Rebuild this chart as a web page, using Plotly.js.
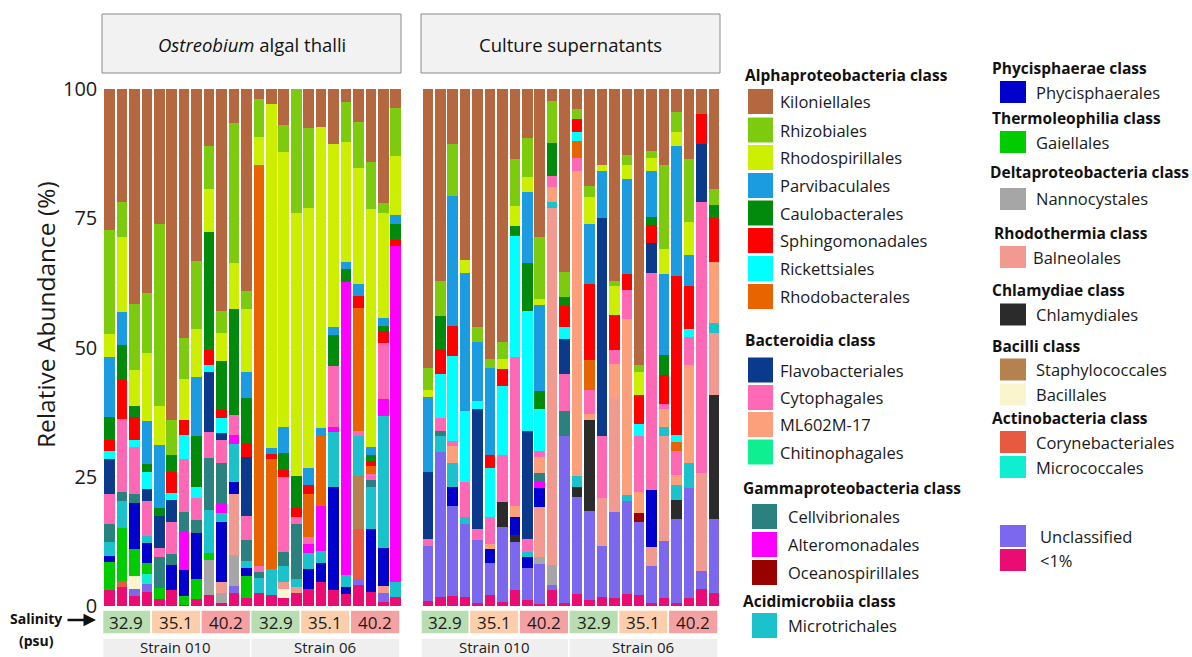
<!DOCTYPE html>
<html>
<head>
<meta charset="utf-8">
<script src="https://cdn.plot.ly/plotly-3.0.1.min.js"></script>
<style>html,body{margin:0;padding:0;background:#fff}#chart{width:1192px;height:657px}</style>
</head>
<body>
<div id="chart"></div>
<script>
// ---------------- DATA ----------------
// Each order: [algal thalli (24 bars), culture supernatants (24 bars)]
// bar order inside a panel: Strain 010 (32.9 x4, 35.1 x4, 40.2 x4), Strain 06 (32.9 x4, 35.1 x4, 40.2 x4)
const panels = ['<i>Ostreobium</i> algal thalli', 'Culture supernatants'];
const strains = ['Strain 010', 'Strain 06'];
const salinities = ['32.9', '35.1', '40.2'];
const replicates = ['1', '2', '3', '4'];

const Kiloniellales = [
  [27.3,21.8,41.5,39.4,26.1,64.0,48.2,33.2,11.0,42.9,6.6,39.0, 1.9,2.9,7.0,0,7.6,7.4,10.6,2.5,6.3,14.1,22.1,3.7],
  [54.0,37.1,10.6,33.1,46.1,52.3,48.9,13.5,9.5,28.6,2.3,35.3, 3.9,18.8,14.7,37.1,12.8,53.4,11.9,14.7,4.4,13.5,4.8,19.4]];
const Rhizobiales = [
  [20.0,6.8,12.9,11.7,35.2,6.8,7.8,13.3,8.4,4.2,27.0,3.6, 7.3,0,5.1,24.0,15.4,0,0,7.8,8.9,9.2,1.9,9.3],
  [4.2,6.8,10.1,0,2.8,1.7,3.4,9.1,7.6,12.1,8.2,5.0, 1.9,2.0,0,1.1,1.9,1.3,1.5,16.3,4.0,12.2,0,3.0]];
const Rhodospirillales = [
  [4.6,14.5,7.0,13.2,7.6,0,8.0,9.3,8.2,5.6,9.0,12.2, 5.5,66.5,53.3,50.9,50.4,58.2,35.4,23.1,22.6,45.9,20.2,11.4],
  [1.4,0,0,2.4,0,0,1.9,3.9,2.9,1.0,0,0, 0,5.3,1.2,5.5,2.7,4.5,2.4,4.7,2.6,6.4,0,0]];
const Parvibaculales = [
  [11.5,6.4,0,8.3,12.1,0,0,11.4,0,0,0,5.0, 0,1.2,5.1,0,3.2,1.5,1.6,1.5,2.3,1.6,1.6,1.7],
  [14.5,0,25.1,26.7,11.4,16.8,0,0,13.7,16.8,0,0, 0,11.6,9.1,0,18.3,0,9.0,15.8,25.1,6.1,0,0]];
const Caulobacterales = [
  [4.4,6.7,2.1,1.5,1.5,3.2,0,9.7,22.8,9.1,20.5,8.6, 0,0,3.1,6.1,0,0,6.0,2.4,0,1.1,1.1,3.1],
  [0,6.3,0,0,0,0,0,1.9,9.2,3.3,6.3,1.6, 0,0,0,0,0,0,1.5,3.8,0,0,0,2.6]];
const Sphingomonadales = [
  [2.3,7.6,4.3,0,0,4.2,3.0,0,3.0,1.9,0,2.7, 0,1.0,1.4,1.7,1.7,0,0,0,2.2,1.0,2.2,1.1],
  [0,4.9,5.8,0,0,2.6,3.2,0,0,0,0,4.1, 2.6,14.8,0,6.8,3.1,5.5,3.4,5.6,30.8,8.2,5.8,8.4]];
const Rickettsiales = [
  [1.5,0,1.5,3.3,0,1.2,4.6,2.3,1.3,2.9,0,0, 0,0,0,0,0,0,0,0,0,0,0,0],
  [0,8.6,16.4,13.8,1.5,9.3,13.4,23.5,23.2,8.3,0,2.4, 1.6,0,0,0,0,2.4,0,0,1.3,1.6,0,0]];
const Rhodobacterales = [
  [0,0,0,0,0,0,0,0,0,0,0,0, 77.6,21.3,0,0,8.4,13.6,0,0,23.8,1.6,0,0],
  [0,0,0,0,0,0,0,0,0,0,0,0, 3.4,5.8,0,0,0,0,0,0,1.9,0,0,0]];
const Flavobacteriales = [
  [6.7,0,0,2.2,6.2,4.3,0,0,11.6,1.2,0,11.5, 0,0,0,0,0,0,0,0,0,0,0,0],
  [13.0,0,0,0,23.4,0,0,0,21.0,0,0,6.7, 0,0,42.1,0,0,0,5.8,0,0,0,11.3,0]];
const Cytophagales = [
  [5.9,14.1,9.0,6.9,1.8,6.2,10.3,4.2,5.1,4.6,3.8,4.6, 1.1,0,14.6,1.5,1.3,0,11.8,0,1.0,1.1,10.9,0],
  [1.2,2.4,1.1,6.8,2.0,5.3,9.0,28.7,2.4,1.1,2.2,7.1, 2.4,4.6,12.1,2.7,5.7,10.8,42.1,0.9,4.6,5.4,52.3,0]];
const ML602M17 = [
  [0,0,0,0,0,0,0,0,0,0,0,0, 0,0,0,0,0,0,0,0,0,0,0,0],
  [0,0,3.3,0,0,1.0,0,2.1,0,3.0,2.8,0, 59.1,1.1,0,6.4,34.0,4.2,0,3.6,1.9,19.0,0,11.9]];
const Chitinophagales = [
  [0,0,0,0,0,0,0,0,0,0,0,0, 0,0,0,0,0,0,0,0,0,0,0,0],
  [0,0,0,0,0,0,0,0,0,0,0,0, 0,0,0,0,0,0,0,0,0,0,0,0]];
const Cellvibrionales = [
  [3.4,1.8,1.7,0,6.1,2.2,3.7,2.5,10.0,7.7,0,4.1, 1.2,0,2.6,10.6,0,0,0,0,0,1.3,0,0],
  [0,1.1,0,0,0,0,0,0,0,1.6,0,5.0, 0,0,0,0,0,0,0,0,0,0,0,0]];
const Alteromonadales = [
  [0,0,0,0,0,0,7.4,0,0,2.0,1.8,0, 0,0,0,0,1.8,8.6,0.9,56.7,0,0,3.3,65.0],
  [0,0,0,0,0,0,0,0,0,1.3,0,0, 0,0,0,0,0,0,0,0,0,0,0,0]];
const Oceanospirillales = [
  [0,0,0,0,0,0,0,0,0,0,0,0, 0,0,0,0,0,0,0,0,0,0,0,0],
  [0,0,0,0,0,0,0,0,0,0,0,0, 0,0,0,0,0,1.6,0,0,0,0,0,0]];
const Microtrichales = [
  [2.7,5.3,0,1.4,0,0,0,0,8.4,1.6,7.4,1.4, 2.8,5.0,3.2,1.6,3.1,2.3,10.7,2.4,7.8,8.3,25.5,3.0],
  [0,3.1,4.5,1.3,0,0,0,0,1.1,0,1.3,0, 2.0,0,0,0,1.2,0,0,1.7,2.9,4.8,0,1.9]];
const Phycisphaerales = [
  [1.1,0,9.0,3.7,0,4.9,5.0,8.9,0,11.6,2.2,1.5, 0,0,0,0,3.9,3.8,20.0,1.3,0,12.0,7.3,0],
  [0,0,3.8,0,0,2.6,0,3.6,2.1,3.7,0,0, 0,0,0,0,0,0,10.9,0,0,0,0,0]];
const Gaiellales = [
  [5.5,10.1,5.2,2.3,2.1,0,1.8,3.9,1.3,0,0,4.3, 0,0,0,0,0,0,0,0,0,0,0,0],
  [0,0,0,0,0,0,0,0,0,0,0,0, 0,0,0,0,0,0,0,0,0,0,0,0]];
const Nannocystales = [
  [0,0,0,0,0,0,0,0,6.8,2.1,6.0,0, 0,0,0,0,0,0,0,0,0,0,0,0],
  [0,0,0,0,0,0,0,0,0,1.4,3.8,0, 0,0,0,0,0,0,0,0,0,0,0,0]];
const Balneolales = [
  [0,0,0,0,0,0,0,0,0,2.1,11.8,0, 0,0,1.4,1.0,0,0,0,0,0,0,1.4,0],
  [0,0,0,0,0,0,0,0,0,9.7,69.0,0, 0,0,9.2,22.2,0,0,3.7,20.3,0,0,19.0,12.0]];
const Chlamydiales = [
  [0,0,0,0,0,0,0,0,0,0,0,0, 0,0,0,0,0,0,0,0,0,0,0,0],
  [0,0,0,0,0,0,5.0,1.4,0,0,0,0, 2.1,17.6,0,0,0,0,0,0,3.7,0,0,24.0]];
const Staphylococcales = [
  [0,0,0,0,0,0,0,0,0,0,0,0, 0,0,0,0,0,0,0,0,10.3,0,0,0],
  [0,0,0,0,0,0,0,0,0,0,0,0, 0,0,0,0,0,0,0,0,0,0,0,0]];
const Bacillales = [
  [0,0,2.6,0,0,0,0,0,0,0,0,0, 0,0,1.7,0,0,0,0,0,0,0,0,0],
  [0,0,0,0,0,0,0,0,0,0,0,0, 0,0,0,0,0,0,0,0,0,0,0,0]];
const Corynebacteriales = [
  [0,1.2,0,0,0,0,0,0,0,0,0,0, 0,0,0,0,0,0,0,0,9.6,0,0,0],
  [0,0,0,0,0,0,0,0,0,0,0,0, 0,0,0,0,0,0,0,0,0,0,0,0]];
const Micrococcales = [
  [0,0,0,1.9,0,0,0,0,0,0,0,0, 0,0,0,0,0,0,0,0,0,0,0,0],
  [0,0,0,0,0,0,0,0,0,0,0,0, 0,0,0,0,0,0,0,0,0,0,0,0]];
const Unclassified = [
  [0,0,1.3,1.4,0,0,0,0,0,0,1.3,0, 0,0,0,0,0,0,0,0,1.1,0,1.7,0],
  [10.7,27.9,17.4,14.1,12.3,6.3,14.4,9.2,6.1,7.8,1.0,32.3, 18.7,17.2,9.9,16.7,18.0,14.2,7.3,11.1,16.2,21.3,3.6,14.3]];
const LessThan1 = [
  [3.1,3.7,1.9,2.8,1.3,3.0,0.2,1.3,2.1,0.5,2.6,1.5, 2.6,2.1,1.5,2.6,3.2,4.6,3.0,2.3,4.1,2.8,0.8,1.7],
  [1.0,1.8,1.9,1.8,0.5,2.1,0.8,3.1,1.2,0.3,3.1,0.5, 2.3,1.2,1.7,1.5,2.3,2.1,0.5,1.5,0.6,1.5,3.2,2.5]];

// name -> values
const seriesData = {
  'Kiloniellales': Kiloniellales, 'Rhizobiales': Rhizobiales, 'Rhodospirillales': Rhodospirillales,
  'Parvibaculales': Parvibaculales, 'Caulobacterales': Caulobacterales, 'Sphingomonadales': Sphingomonadales,
  'Rickettsiales': Rickettsiales, 'Rhodobacterales': Rhodobacterales, 'Flavobacteriales': Flavobacteriales,
  'Cytophagales': Cytophagales, 'ML602M-17': ML602M17, 'Chitinophagales': Chitinophagales,
  'Cellvibrionales': Cellvibrionales, 'Alteromonadales': Alteromonadales, 'Oceanospirillales': Oceanospirillales,
  'Microtrichales': Microtrichales, 'Phycisphaerales': Phycisphaerales, 'Gaiellales': Gaiellales,
  'Nannocystales': Nannocystales, 'Balneolales': Balneolales, 'Chlamydiales': Chlamydiales,
  'Staphylococcales': Staphylococcales, 'Bacillales': Bacillales, 'Corynebacteriales': Corynebacteriales,
  'Micrococcales': Micrococcales, 'Unclassified': Unclassified, '<1%': LessThan1
};

// ---------------- STYLES ----------------
const colors = {
  'Kiloniellales':'#B5683F','Rhizobiales':'#7CCB0E','Rhodospirillales':'#CCEE00','Parvibaculales':'#1B9BE0',
  'Caulobacterales':'#028A0C','Sphingomonadales':'#FF0000','Rickettsiales':'#00FFFF','Rhodobacterales':'#E86400',
  'Flavobacteriales':'#0B3A8C','Cytophagales':'#FF68B4','ML602M-17':'#FBA07A','Chitinophagales':'#10EE92',
  'Cellvibrionales':'#2B8080','Alteromonadales':'#FF00FF','Oceanospirillales':'#990000','Microtrichales':'#1BC2CC',
  'Phycisphaerales':'#0000CD','Gaiellales':'#00CC00','Nannocystales':'#A6A6A6','Balneolales':'#F29A90',
  'Chlamydiales':'#2B2B2B','Staphylococcales':'#B5814F','Bacillales':'#FAF5CC','Corynebacteriales':'#E85A40',
  'Micrococcales':'#10EED2','Unclassified':'#7B68EE','<1%':'#EA0C72'
};
// stacking order, bottom first
const stackOrder = ['<1%','Unclassified','Micrococcales','Corynebacteriales','Bacillales','Staphylococcales',
  'Chlamydiales','Nannocystales','Balneolales','Gaiellales','Phycisphaerales','Microtrichales',
  'Oceanospirillales','Alteromonadales','Cellvibrionales','Chitinophagales','ML602M-17','Cytophagales',
  'Flavobacteriales','Rhodobacterales','Rickettsiales','Sphingomonadales','Caulobacterales',
  'Parvibaculales','Rhodospirillales','Rhizobiales','Kiloniellales'];

const salinityColors = ['#B7DDB1','#FDCEAC','#F6A1A1'];
const FONT = '"Open Sans", "Noto Sans", "DejaVu Sans", sans-serif';
const W = 1192, H = 657;
const px = v => v / W;
const py = v => 1 - v / H;

// sample labels (category positions)
const sampleLabels = [];
strains.forEach(s => salinities.forEach(p => replicates.forEach(r => sampleLabels.push(s + ' · ' + p + ' psu · ' + r))));

// ---------------- TRACES ----------------
const traces = [];
stackOrder.forEach(name => {
  const vals = seriesData[name];
  ['x', 'x2'].forEach((ax, pi) => {
    traces.push({
      type: 'bar', x: sampleLabels, y: vals[pi], xaxis: ax, yaxis: 'y',
      name: name, showlegend: false,
      marker: {color: colors[name], line: {width: 0}},
      hovertemplate: '%{x}<br>' + name + ': %{y:.1f}%<extra></extra>'
    });
  });
});

// ---------------- LAYOUT DECORATIONS ----------------
const shapes = [];
const annotations = [];

// panel headers
const headerX = [[102, 401], [421, 720]];
panels.forEach((t, i) => {
  shapes.push({type: 'rect', xref: 'paper', yref: 'paper', x0: px(headerX[i][0]), x1: px(headerX[i][1]),
    y0: py(73), y1: py(14), fillcolor: '#F2F2F2', line: {color: '#8A8A8A', width: 1}, layer: 'below'});
  annotations.push({xref: 'paper', yref: 'paper', x: px((headerX[i][0] + headerX[i][1]) / 2), y: py(44),
    text: t, showarrow: false, xanchor: 'center', yanchor: 'middle', font: {size: 18.5, color: '#111', family: FONT}});
});

// salinity and strain boxes
['x', 'x2'].forEach(ax => {
  strains.forEach((s, si) => {
    salinities.forEach((sal, ki) => {
      const g = si * 3 + ki;
      shapes.push({type: 'rect', xref: ax, yref: 'paper', x0: 4 * g - 0.66, x1: 4 * g + 3.34,
        y0: py(634), y1: py(610), fillcolor: salinityColors[ki], line: {color: '#FFFFFF', width: 1.5}});
      annotations.push({xref: ax, yref: 'paper', x: 4 * g + 1.34, y: py(622), text: sal, showarrow: false,
        xanchor: 'center', yanchor: 'middle', font: {size: 17, color: '#1a1a1a', family: FONT}});
    });
    shapes.push({type: 'rect', xref: ax, yref: 'paper', x0: 12 * si - 0.66, x1: 12 * si + 11.34,
      y0: py(660), y1: py(638), fillcolor: '#EFEFEF', line: {color: '#FFFFFF', width: 1.5}});
    annotations.push({xref: ax, yref: 'paper', x: 12 * si + 5.34, y: py(646.5), text: s, showarrow: false,
      xanchor: 'center', yanchor: 'middle', font: {size: 15, color: '#1a1a1a', family: FONT}});
  });
});

// salinity row label + arrow
annotations.push({xref: 'paper', yref: 'paper', x: px(36), y: py(618), text: '<b>Salinity</b>', showarrow: false,
  xanchor: 'center', yanchor: 'middle', font: {size: 14, color: '#111', family: FONT}});
annotations.push({xref: 'paper', yref: 'paper', x: px(36), y: py(640), text: '<b>(psu)</b>', showarrow: false,
  xanchor: 'center', yanchor: 'middle', font: {size: 14, color: '#111', family: FONT}});
annotations.push({xref: 'paper', yref: 'paper', x: px(96), y: py(620), ax: -30, ay: 0, text: '', showarrow: true,
  arrowhead: 2, arrowsize: 1, arrowwidth: 2.5, arrowcolor: '#111'});

// y-axis title
annotations.push({xref: 'paper', yref: 'paper', x: px(46), y: py(315), text: 'Relative Abundance (%)',
  textangle: -90, showarrow: false, xanchor: 'center', yanchor: 'middle',
  font: {size: 24.5, color: '#1a1a1a', family: FONT}});

// ---------------- LEGEND (grouped by class) ----------------
const legendGroups = [
  {head: 'Alphaproteobacteria class', hx: 743, hy: 75, sx: 748, tx: 778, sw: 25, sh: 25,
    items: [['Kiloniellales', 101.5], ['Rhizobiales', 130], ['Rhodospirillales', 157.5], ['Parvibaculales', 185.5],
      ['Caulobacterales', 213], ['Sphingomonadales', 240.5], ['Rickettsiales', 268.5], ['Rhodobacterales', 296.5]]},
  {head: 'Bacteroidia class', hx: 743, hy: 340, sx: 748, tx: 778, sw: 25, sh: 25,
    items: [['Flavobacteriales', 370], ['Cytophagales', 397.5], ['ML602M-17', 424.5], ['Chitinophagales', 452]]},
  {head: 'Gammaproteobacteria class', hx: 741, hy: 488, sx: 752, tx: 786, sw: 25, sh: 25,
    items: [['Cellvibrionales', 516.5], ['Alteromonadales', 544.5], ['Oceanospirillales', 572.5]]},
  {head: 'Acidimicrobiia class', hx: 741, hy: 601, sx: 752, tx: 786, sw: 25, sh: 25,
    items: [['Microtrichales', 625.5]]},
  {head: 'Phycisphaerae class', hx: 990, hy: 68, sx: 1000, tx: 1034, sw: 26, sh: 22, items: [['Phycisphaerales', 92]]},
  {head: 'Thermoleophilia class', hx: 990, hy: 118, sx: 1000, tx: 1034, sw: 26, sh: 22, items: [['Gaiellales', 142]]},
  {head: 'Deltaproteobacteria class', hx: 988, hy: 172, sx: 1000, tx: 1034, sw: 26, sh: 22, items: [['Nannocystales', 199]]},
  {head: 'Rhodothermia class', hx: 992, hy: 233, sx: 1000, tx: 1031, sw: 26, sh: 22, items: [['Balneolales', 257]]},
  {head: 'Chlamydiae class', hx: 990, hy: 290, sx: 1000, tx: 1034, sw: 26, sh: 22, items: [['Chlamydiales', 314.5]]},
  {head: 'Bacilli class', hx: 990, hy: 346, sx: 1000, tx: 1034, sw: 26, sh: 22,
    items: [['Staphylococcales', 369.5], ['Bacillales', 394.5]]},
  {head: 'Actinobacteria class', hx: 990, hy: 418, sx: 1000, tx: 1034, sw: 26, sh: 22,
    items: [['Corynebacteriales', 442], ['Micrococcales', 467]]},
  {head: '', hx: 990, hy: 0, sx: 1000, tx: 1038, sw: 26, sh: 22,
    items: [['Unclassified', 536], ['<1%', 560]]}
];
legendGroups.forEach(g => {
  if (g.head) annotations.push({xref: 'paper', yref: 'paper', x: px(g.hx), y: py(g.hy), text: '<b>' + g.head + '</b>',
    showarrow: false, xanchor: 'left', yanchor: 'middle', font: {size: 15.5, color: '#111', family: FONT}});
  g.items.forEach(([name, yc]) => {
    shapes.push({type: 'rect', xref: 'paper', yref: 'paper', x0: px(g.sx), x1: px(g.sx + g.sw),
      y0: py(yc + g.sh / 2), y1: py(yc - g.sh / 2), fillcolor: colors[name], line: {width: 0}});
    annotations.push({xref: 'paper', yref: 'paper', x: px(g.tx), y: py(yc), text: name.replace('<', '&lt;'),
      showarrow: false, xanchor: 'left', yanchor: 'middle', font: {size: 16.5, color: '#1a1a1a', family: FONT}});
  });
});

const xBase = {type: 'category', range: [-0.5, 23.5], showticklabels: false, ticks: '', showgrid: false,
  zeroline: false, showline: false, fixedrange: true};

const layout = {
  width: W, height: H, margin: {l: 0, r: 0, t: 0, b: 0},
  paper_bgcolor: '#FFFFFF', plot_bgcolor: '#FFFFFF',
  barmode: 'stack', bargap: 0.15, showlegend: false,
  font: {family: FONT, color: '#1a1a1a'},
  xaxis: Object.assign({}, xBase, {domain: [px(103.3), px(402)], anchor: 'y'}),
  xaxis2: Object.assign({}, xBase, {domain: [px(421.7), px(720)], anchor: 'y'}),
  yaxis: {domain: [py(606), py(89)], range: [0, 100], tickvals: [0, 25, 50, 75, 100], ticks: '',
    showline: false, zeroline: false, showgrid: true, gridcolor: '#EFEFEF', gridwidth: 1,
    minor: {dtick: 12.5, showgrid: true, gridcolor: '#F3F3F3'},
    tickfont: {size: 20, color: '#1a1a1a', family: FONT}, ticklabelstandoff: 5, fixedrange: true},
  shapes: shapes,
  annotations: annotations
};

Plotly.newPlot('chart', traces, layout, {staticPlot: true, displayModeBar: false});
</script>
</body>
</html>
